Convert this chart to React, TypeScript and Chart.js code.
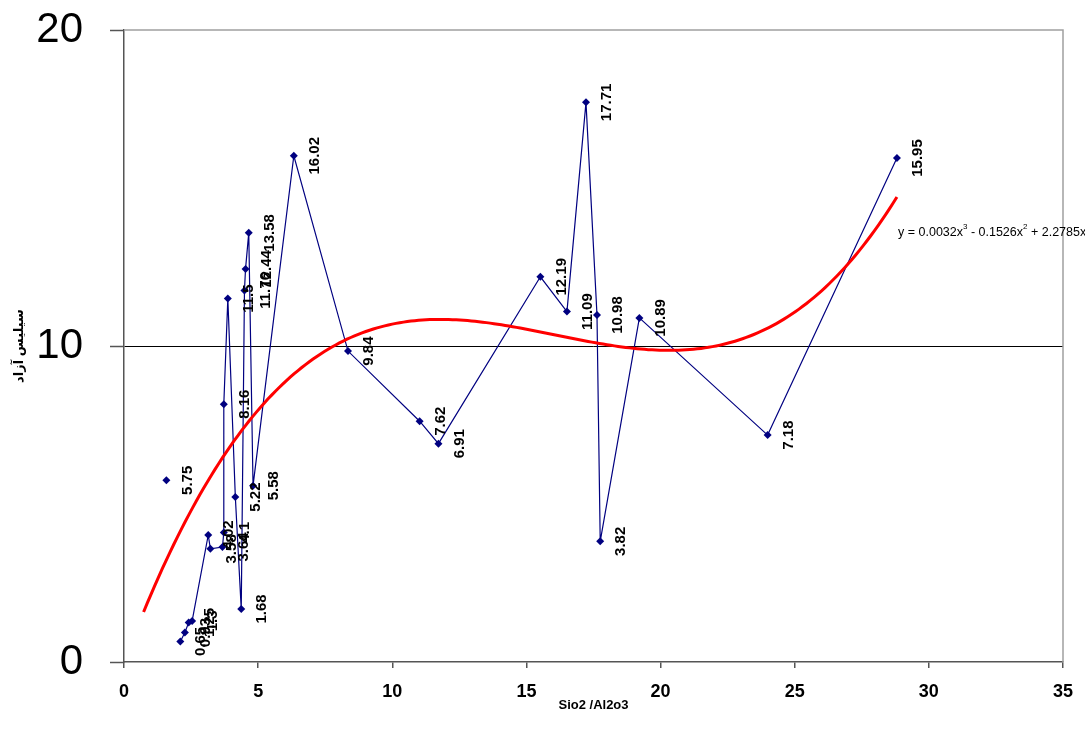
import React, { useEffect, useRef } from "react";
import { Chart, registerables } from "chart.js";

Chart.register(...registerables);

// SiO2/Al2O3 ratio (x) and free silica (y), in drawing order of the original series
const ratioX = [1.58, 2.10, 2.27, 2.41, 2.54, 3.14, 3.22, 3.67, 3.72, 3.72, 3.87, 4.15, 4.37, 4.49, 4.53, 4.65, 4.81, 6.33, 8.35, 11.02, 11.72, 15.52, 16.51, 17.22, 17.63, 17.75, 19.21, 23.99, 28.81];
const freeSilica = [5.75, 0.65, 0.93, 1.25, 1.3, 4.02, 3.58, 3.64, 4.1, 8.16, 11.5, 5.22, 1.68, 11.76, 12.44, 13.58, 5.58, 16.02, 9.84, 7.62, 6.91, 12.19, 11.09, 17.71, 10.98, 3.82, 10.89, 7.18, 15.95];
// the line is broken after these indices (empty cell in the source sheet)
const lineBreakAfter = [0];

const xTicks = [0, 5, 10, 15, 20, 25, 30, 35];
const yTicks = [0, 10, 20];
// polynomial trendline (constant, x, x^2, x^3) as shown by the chart's equation (x^3 term unrounded)
const trendCoefficients = [0, 2.2785, -0.1526, 0.003167];
const trendXRange = [0.73, 28.81];
const xTitle = "Sio2 /Al2o3";
const yTitle = "سیلیس آزاد";
const equationParts = [
  { text: "y = 0.0032x", sup: false },
  { text: "3", sup: true },
  { text: " - 0.1526x", sup: false },
  { text: "2", sup: true },
  { text: " + 2.2785x", sup: false },
];
const equationAnchor = [28.85, 13.6];

const FONT = "'Liberation Sans', Arial, 'DejaVu Sans', 'Noto Sans', sans-serif";

const labelPlugin = {
  id: "pointLabels",
  afterDatasetsDraw(chart: any) {
    const ctx = chart.ctx;
    const meta = chart.getDatasetMeta(0);
    const data = chart.data.datasets[0].data as any[];
    ctx.save();
    ctx.font = `bold 15px ${FONT}`;
    ctx.fillStyle = "#000";
    ctx.textAlign = "center";
    ctx.textBaseline = "middle";
    meta.data.forEach((el: any, i: number) => {
      const d = data[i];
      if (!d || d.y === null) return;
      ctx.save();
      ctx.translate(el.x + 21, el.y);
      ctx.rotate(-Math.PI / 2);
      ctx.fillText(String(d.y), 0, 0);
      ctx.restore();
    });
    ctx.restore();
  },
};

const framePlugin = {
  id: "frameAndEquation",
  beforeDatasetsDraw(chart: any) {
    const { ctx, chartArea } = chart;
    ctx.save();
    ctx.strokeStyle = "#a0a0a0";
    ctx.lineWidth = 1.5;
    ctx.beginPath();
    ctx.moveTo(chartArea.left, chartArea.top);
    ctx.lineTo(chartArea.right, chartArea.top);
    ctx.lineTo(chartArea.right, chartArea.bottom);
    ctx.stroke();
    ctx.restore();
  },
  afterDraw(chart: any) {
    const { ctx } = chart;
    const xs = chart.scales.x;
    const ys = chart.scales.y;
    let x = xs.getPixelForValue(equationAnchor[0]);
    const y = ys.getPixelForValue(equationAnchor[1]);
    ctx.save();
    ctx.fillStyle = "#000";
    ctx.textAlign = "left";
    ctx.textBaseline = "middle";
    equationParts.forEach((p) => {
      ctx.font = p.sup ? `8px ${FONT}` : `12.5px ${FONT}`;
      ctx.fillText(p.text, x, p.sup ? y - 5 : y);
      x += ctx.measureText(p.text).width;
    });
    ctx.restore();
  },
};

export default function App() {
  const ref = useRef<HTMLCanvasElement | null>(null);

  useEffect(() => {
    if (!ref.current) return;
    const points: any[] = [];
    ratioX.forEach((x, i) => {
      points.push({ x, y: freeSilica[i] });
      if (lineBreakAfter.includes(i)) points.push({ x, y: null });
    });

    const c = trendCoefficients;
    const trend: { x: number; y: number }[] = [];
    const steps = 200;
    for (let k = 0; k <= steps; k++) {
      const x = trendXRange[0] + ((trendXRange[1] - trendXRange[0]) * k) / steps;
      trend.push({ x, y: c[0] + c[1] * x + c[2] * x * x + c[3] * x * x * x });
    }

    const chart = new Chart(ref.current, {
      type: "scatter",
      data: {
        datasets: [
          {
            label: "free silica",
            data: points,
            showLine: true,
            spanGaps: false,
            borderColor: "#000080",
            backgroundColor: "#000080",
            borderWidth: 1.2,
            pointStyle: "rectRot",
            pointRadius: 4,
            pointBorderWidth: 0,
            order: 1,
          },
          {
            label: "trend",
            data: trend,
            showLine: true,
            borderColor: "#ff0000",
            borderWidth: 3,
            pointRadius: 0,
            tension: 0,
            order: 0,
          },
        ],
      },
      options: {
        animation: false,
        responsive: false,
        devicePixelRatio: 1,
        layout: { padding: { top: 30, right: 22, left: 0, bottom: 0 } },
        plugins: { legend: { display: false }, tooltip: { enabled: false } },
        scales: {
          x: {
            type: "linear",
            min: 0,
            max: 35,
            afterBuildTicks: (s: any) => {
              s.ticks = xTicks.map((v) => ({ value: v }));
            },
            afterFit: (s: any) => {
              s.height = 69;
              s.paddingLeft = 0;
              s.paddingRight = 0;
            },
            ticks: {
              color: "#000",
              font: { family: FONT, size: 18, weight: "bold" },
              padding: 13,
              maxRotation: 0,
            },
            grid: { drawOnChartArea: false, tickLength: 6, color: "#555", lineWidth: 1.5 },
            border: { color: "#555", width: 1.5 },
            title: {
              display: true,
              text: xTitle,
              color: "#000",
              font: { family: FONT, size: 13, weight: "bold" },
              padding: { top: 0, bottom: 18 },
            },
          },
          y: {
            type: "linear",
            min: 0,
            max: 20,
            afterBuildTicks: (s: any) => {
              s.ticks = yTicks.map((v) => ({ value: v }));
            },
            afterFit: (s: any) => {
              s.width = 124;
              s.paddingTop = 0;
              s.paddingBottom = 0;
            },
            ticks: {
              color: "#000",
              font: { family: FONT, size: 42 },
              padding: 27,
            },
            grid: {
              tickLength: 14,
              lineWidth: 1,
              color: (ctx: any) => (ctx.tick && ctx.tick.value === 10 ? "#000" : "rgba(0,0,0,0)"),
              tickColor: "#555",
              tickWidth: 1.5,
            },
            border: { color: "#555", width: 1.5 },
            title: {
              display: true,
              text: yTitle,
              color: "#000",
              font: { family: FONT, size: 13, weight: "bold" },
              padding: { top: 12, bottom: 0 },
            },
          },
        },
      },
      plugins: [framePlugin, labelPlugin],
    } as any);

    return () => chart.destroy();
  }, []);

  return (
    <div style={{ position: "absolute", left: 0, top: 0, width: 1085, height: 731, background: "#fff" }}>
      <canvas ref={ref} width={1085} height={731} style={{ display: "block" }} />
    </div>
  );
}
